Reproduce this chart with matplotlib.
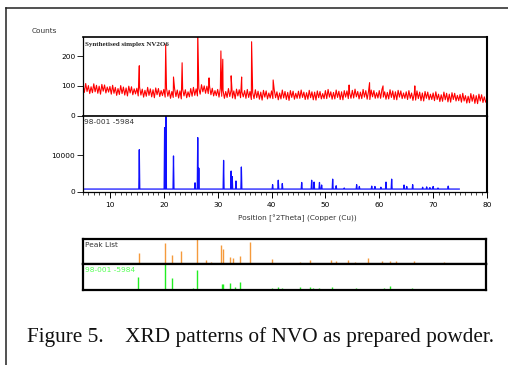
import matplotlib
matplotlib.use("Agg")
import matplotlib.pyplot as plt
from matplotlib.lines import Line2D
from matplotlib.ticker import MultipleLocator
import numpy as np

# ---------------- data ----------------
# measured pattern: background counts every 0.25 deg from 5 to 80 deg 2theta
bg_start, bg_step = 5.0, 0.25
measured_bg = [
    104, 78, 108, 81, 101, 74, 97, 77, 107, 80, 102, 75, 99, 72, 105, 82, 103, 76, 96, 79,
    98, 72, 102, 75, 95, 68, 91, 71, 101, 74, 96, 69, 93, 66, 99, 76, 97, 70, 90, 73,
    92, 66, 96, 69, 89, 62, 85, 65, 95, 68, 90, 63, 87, 60, 93, 70, 91, 64, 84, 67,
    88, 62, 92, 65, 85, 58, 81, 61, 91, 64, 86, 59, 83, 56, 89, 66, 87, 60, 80, 63,
    91, 65, 95, 68, 90, 66, 92, 72, 104, 80, 100, 75, 99, 74, 98, 70, 92, 66, 84, 67,
    88, 62, 92, 65, 85, 58, 81, 61, 91, 64, 86, 59, 83, 56, 89, 66, 87, 60, 80, 63,
    84, 58, 88, 61, 81, 54, 77, 57, 87, 60, 82, 55, 79, 52, 85, 62, 83, 56, 76, 59,
    83, 57, 87, 60, 80, 53, 76, 56, 86, 59, 81, 54, 78, 51, 84, 61, 82, 55, 75, 58,
    82, 58, 86, 61, 79, 54, 77, 55, 85, 60, 80, 53, 79, 52, 83, 60, 81, 56, 74, 57,
    84, 57, 88, 62, 80, 55, 78, 56, 86, 61, 82, 54, 80, 53, 84, 62, 83, 57, 76, 58,
    85, 59, 89, 63, 81, 56, 79, 57, 88, 62, 84, 55, 81, 54, 86, 63, 84, 58, 77, 59,
    84, 58, 88, 62, 80, 55, 78, 56, 87, 61, 83, 54, 80, 53, 85, 62, 83, 57, 76, 58,
    80, 54, 84, 58, 76, 51, 74, 52, 83, 57, 79, 50, 76, 49, 81, 58, 79, 53, 72, 54,
    76, 50, 80, 54, 72, 47, 70, 48, 79, 53, 75, 46, 72, 45, 77, 54, 75, 49, 68, 50,
    71, 45, 75, 49, 67, 42, 65, 43, 74, 48, 70, 41, 67, 40, 72, 49, 70, 44, 63, 45,
    55,
]
measured_peak_pos = [15.45, 20.35, 21.8, 23.4, 26.3, 28.4, 30.6, 30.95, 32.5,
                     34.45, 36.3, 40.3, 54.4, 58.2, 60.7, 66.6]
measured_peak_cts = [168, 239, 130, 178, 290, 127, 218, 190, 134,
                     130, 249, 120, 103, 111, 100, 100]

# reference pattern 98-001-5984 (simulated profile)
ref_base = 800
ref_range = (5.0, 74.85)
ref_pos = [15.45, 20.15, 20.4, 21.8, 25.8, 26.3, 26.5, 31.1, 32.5, 32.7, 33.4,
           34.4, 40.2, 41.25, 42.0, 45.6, 47.45, 47.9, 48.9, 49.3, 51.35, 52.0,
           53.5, 55.8, 56.3, 58.6, 59.2, 60.3, 61.25, 62.3, 64.6, 65.1, 66.2,
           68.05, 68.8, 69.4, 70.0, 70.9, 72.8]
ref_cts = [11500, 17500, 20500, 9800, 2500, 14800, 6500, 8600, 5700, 4200, 3000,
           6800, 2000, 3200, 2300, 2600, 3200, 2700, 2600, 1900, 3500, 1700,
           1100, 2000, 1500, 1600, 1500, 1300, 2700, 3500, 1900, 1500, 2000,
           1300, 1400, 1200, 1500, 1100, 1600]

# peak list of the measured pattern (relative intensity, %)
plist_pos = [15.4, 20.3, 21.6, 23.25, 26.2, 27.9, 28.8, 30.6, 31.0, 32.35, 32.9,
             34.2, 36.05, 40.2, 45.4, 47.3, 51.2, 52.1, 54.3, 55.6, 58.0, 60.6,
             62.2, 63.2, 66.6, 72.1]
plist_int = [46, 84, 36, 53, 100, 16, 8, 77, 61, 27, 23, 32, 90, 20, 8, 17, 17,
             13, 17, 8, 23, 13, 13, 13, 13, 8]

# reference sticks 98-001-5984 (relative intensity, %)
ref_stick_pos = [15.3, 20.3, 21.6, 25.5, 26.2, 30.9, 31.1, 32.4, 33.3, 34.2, 40.1,
                 41.3, 42.0, 45.4, 47.3, 47.8, 48.9, 49.5, 51.3, 52.0, 55.8, 56.3,
                 58.2, 58.6, 59.2, 60.0, 61.1, 62.1, 64.4, 65.1, 66.2, 67.9, 68.8,
                 69.7, 70.5, 71.8, 72.3, 72.8, 74.5, 76.1, 77.2, 78.1]
ref_stick_int = [51, 100, 47, 9, 76, 23, 23, 27, 13, 31, 7, 12, 7, 12, 12, 7, 7,
                 4, 12, 4, 8, 4, 4, 4, 4, 4, 7, 17, 4, 4, 8, 4, 4, 4, 4, 4, 4, 4,
                 4, 4, 4, 4]

x_range = (5, 80)
x_major = [10, 20, 30, 40, 50, 60, 70, 80]
meas_yticks = [0, 100, 200]
ref_yticks = [0, 10000]

# ---------------- layout helpers ----------------
W, H = 508, 365
fig = plt.figure(figsize=(W / 100, H / 100), dpi=100)
fig.patch.set_facecolor("white")


def rect(x0, y0, x1, y1):
    return [x0 / W, 1 - y1 / H, (x1 - x0) / W, (y1 - y0) / H]


def fpos(x, y):
    return x / W, 1 - y / H


narrow = ["Liberation Sans Narrow", "DejaVu Sans"]
small = 5.3

# page frame
fig.add_artist(Line2D([6 / W, 6 / W], [0, 1 - 8 / H], transform=fig.transFigure,
                      color="#222222", lw=1.1))
fig.add_artist(Line2D([6 / W, 1], [1 - 8 / H, 1 - 8 / H], transform=fig.transFigure,
                      color="#222222", lw=1.1))

# ---------------- measured pattern ----------------
ax1 = fig.add_axes(rect(83, 37, 487, 115.5))
bg_x = bg_start + bg_step * np.arange(len(measured_bg))
xs = np.concatenate([bg_x, measured_peak_pos])
ys = np.concatenate([measured_bg, measured_peak_cts])
order = np.argsort(xs, kind="stable")
ax1.plot(xs[order], ys[order], color="#ff0000", lw=0.8)
ax1.set_xlim(*x_range)
ax1.set_ylim(0, 265)
ax1.set_xticks([])
ax1.set_yticks(meas_yticks)
ax1.set_yticklabels([str(v) for v in meas_yticks], fontsize=small, family=narrow)
ax1.tick_params(axis="y", length=4, width=0.6, pad=1.5)
ax1.text(0.005, 0.93, "Synthetised simplex NV2O6", transform=ax1.transAxes,
         fontsize=5.0, family=["Liberation Serif"], fontweight="bold",
         va="top", ha="left", color="#222222")

# ---------------- reference pattern ----------------
ax2 = fig.add_axes(rect(83, 115.5, 487, 192))
vx = [ref_range[0]]
vy = [ref_base]
w = 0.09
for p, h in zip(ref_pos, ref_cts):
    vx += [p - w, p, p + w]
    vy += [ref_base, h, ref_base]
vx.append(ref_range[1])
vy.append(ref_base)
ax2.plot(vx, vy, color="#1010ff", lw=0.9)
ax2.set_xlim(*x_range)
ax2.set_ylim(0, 20800)
ax2.set_yticks(ref_yticks)
ax2.set_yticklabels([str(v) for v in ref_yticks], fontsize=small, family=narrow)
ax2.set_xticks(x_major)
ax2.set_xticklabels([str(v) for v in x_major], fontsize=small, family=narrow)
ax2.xaxis.set_minor_locator(MultipleLocator(1))
ax2.tick_params(axis="y", length=4, width=0.6, pad=1.5)
ax2.tick_params(axis="x", which="major", length=4, width=0.7, pad=3)
ax2.tick_params(axis="x", which="minor", length=2, width=0.5)
ax2.text(0.003, 0.95, "98-001 -5984", transform=ax2.transAxes, fontsize=small,
         family=narrow, va="top", ha="left", color="#333333")

for ax in (ax1, ax2):
    for s in ("left", "bottom"):
        ax.spines[s].set_linewidth(0.9)
    ax.spines["top"].set_linewidth(1.2)
    ax.spines["right"].set_linewidth(1.5)

fig.text(*fpos(32, 31), "Counts", fontsize=small, family=narrow,
         ha="left", va="center", color="#333333")
fig.text(*fpos(297, 218), "Position [\u00b02Theta] (Copper (Cu))", fontsize=small,
         family=narrow, ha="center", va="center", color="#333333")

# ---------------- peak lists ----------------
ax3 = fig.add_axes(rect(83, 239, 486, 264))
ax3.vlines(plist_pos, 0, plist_int, color="#f59a3c", lw=1.0)
ax3.set_ylim(0, 101)
ax3.text(0.004, 0.88, "Peak List", transform=ax3.transAxes, fontsize=small,
         family=narrow, va="top", ha="left", color="#333333")

ax4 = fig.add_axes(rect(83, 264, 486, 290))
ax4.vlines(ref_stick_pos, 0, ref_stick_int, color="#22ee22", lw=1.0)
ax4.set_ylim(0, 100)
ax4.text(0.004, 0.88, "98-001 -5984", transform=ax4.transAxes, fontsize=small,
         family=narrow, va="top", ha="left", color="#55ff55")

for ax in (ax3, ax4):
    ax.set_xlim(*x_range)
    ax.set_xticks([])
    ax.set_yticks([])
    for s in ax.spines.values():
        s.set_linewidth(1.6)

# ---------------- caption ----------------
fig.text(*fpos(27, 337), "Figure 5.    XRD patterns of NVO as prepared powder.",
         fontsize=15.3, family=["Liberation Serif"], ha="left", va="center",
         color="#111111")

fig.savefig("out.png", dpi=100)
